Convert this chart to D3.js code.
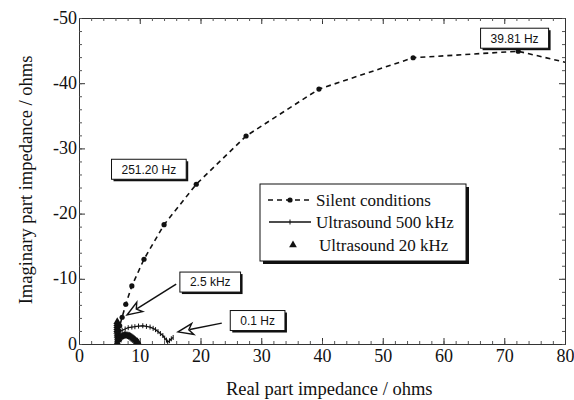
<!DOCTYPE html>
<html>
<head>
<meta charset="utf-8">
<script src="https://cdn.jsdelivr.net/npm/d3@7"></script>
<style>
  html, body { margin: 0; padding: 0; background: #fff; }
  svg { display: block; }
  .tick text { font-family: 'Liberation Serif', 'Times New Roman', serif !important; }
</style>
</head>
<body>
<svg id="chart" width="574" height="400"></svg>
<script>
// Nyquist plot: real part vs. imaginary part of the impedance (ohms)

const xTicks = [0, 10, 20, 30, 40, 50, 60, 70, 80];
const yTicks = [0, -10, -20, -30, -40, -50];

// Silent conditions (real, imaginary)
const silentRe = [6.3, 6.4, 6.5, 6.7, 7.1, 7.7, 8.7, 10.7, 14.0, 19.3, 27.5, 39.5, 55.0, 72.3, 81.0];
const silentIm = [-0.4, -1.2, -2.0, -2.8, -4.1, -6.1, -8.9, -13.0, -18.3, -24.5, -31.9, -39.1, -43.9, -44.9, -43.0];

// Ultrasound 500 kHz
const us500Re = [6.3, 6.4, 6.6, 7.1, 7.6, 8.1, 8.7, 9.2, 9.8, 10.5, 11.1, 11.7, 12.2, 12.6, 13.0, 13.4, 13.8, 14.1, 14.4, 14.6, 14.9, 15.2, 15.5];
const us500Im = [-0.6, -1.2, -1.8, -2.1, -2.3, -2.5, -2.6, -2.65, -2.75, -2.8, -2.7, -2.6, -2.4, -2.2, -1.9, -1.6, -1.3, -0.9, -0.6, -0.3, -0.5, -0.8, -1.0];

// Ultrasound 20 kHz
const us20Re = [6.3, 6.3, 6.3, 6.3, 6.3, 6.3, 6.35, 6.35, 6.4, 6.45, 6.3, 6.5, 6.7, 6.9, 7.1, 7.3, 7.5, 7.7, 7.9, 8.1, 8.3, 8.5, 8.7, 8.9, 9.1, 9.3, 9.5, 9.6, 9.7, 9.8];
const us20Im = [-3.4, -3.1, -2.8, -2.5, -2.2, -1.9, -1.6, -1.3, -1.0, -0.6, -0.2, -0.8, -1.0, -1.1, -1.2, -1.25, -1.3, -1.3, -1.3, -1.25, -1.2, -1.1, -1.0, -0.85, -0.7, -0.55, -0.4, -0.3, -0.2, -0.05];

// Frequency call-outs: label, label centre, arrow start, arrow tip (data units)
const noteLabels = ["39.81 Hz", "251.20 Hz", "2.5 kHz", "0.1 Hz"];
const noteRe = [71.7, 11.5, 21.6, 29.4];
const noteIm = [-46.9, -26.8, -9.5, -3.6];
const arrowFromRe = [null, null, 16.0, 23.5];
const arrowFromIm = [null, null, -9.2, -3.2];
const arrowToRe = [null, null, 7.9, 16.3];
const arrowToIm = [null, null, -4.45, -1.85];

const legendLabels = ["Silent conditions", "Ultrasound 500 kHz", "Ultrasound 20 kHz"];

const svg = d3.select("#chart");
const pLeft = 79, pRight = 565, pTop = 18, pBottom = 344;

const x = d3.scaleLinear().domain([0, 80]).range([pLeft, pRight]);
const y = d3.scaleLinear().domain([0, -50]).range([pBottom, pTop]);

const serif = "'Liberation Serif', 'Times New Roman', serif";
const sans = "'Liberation Sans', Arial, sans-serif";
const ink = "#111";

svg.append("defs").append("clipPath").attr("id", "plotClip")
  .append("rect").attr("x", pLeft).attr("y", pTop).attr("width", pRight - pLeft).attr("height", pBottom - pTop);

// Axes: major ticks every 10, minor every 2, all pointing inward
const minorX = d3.range(0, 81, 2);
const minorY = d3.range(0, -51, -2);

function styleAxis(g) {
  g.attr("font-family", serif).attr("font-size", 18);
  g.select(".domain").attr("stroke", "#333").attr("stroke-width", 1);
  g.selectAll(".tick line").attr("stroke", "#333").attr("stroke-width", 1);
  g.selectAll(".tick text").attr("font-family", serif).attr("font-size", 18).attr("fill", ink);
}
function styleMinor(g) {
  g.select(".domain").remove();
  g.selectAll("line").attr("stroke", "#555");
}

const bottomAxis = svg.append("g").attr("transform", `translate(0,${pBottom})`)
  .call(d3.axisBottom(x).tickValues(xTicks).tickSize(-6).tickPadding(5).tickFormat(d => String(d)));
styleAxis(bottomAxis);
svg.append("g").attr("transform", `translate(0,${pBottom})`)
  .call(d3.axisBottom(x).tickValues(minorX).tickSize(-3).tickFormat("")).call(styleMinor);

const topAxis = svg.append("g").attr("transform", `translate(0,${pTop})`)
  .call(d3.axisTop(x).tickValues(xTicks).tickSize(-6).tickFormat(""));
styleAxis(topAxis);
svg.append("g").attr("transform", `translate(0,${pTop})`)
  .call(d3.axisTop(x).tickValues(minorX).tickSize(-3).tickFormat("")).call(styleMinor);

const leftAxis = svg.append("g").attr("transform", `translate(${pLeft},0)`)
  .call(d3.axisLeft(y).tickValues(yTicks).tickSize(-6).tickPadding(2).tickFormat(d => String(d)));
styleAxis(leftAxis);
leftAxis.selectAll(".tick text").attr("dy", "0.28em");
svg.append("g").attr("transform", `translate(${pLeft},0)`)
  .call(d3.axisLeft(y).tickValues(minorY).tickSize(-3).tickFormat("")).call(styleMinor);

const rightAxis = svg.append("g").attr("transform", `translate(${pRight},0)`)
  .call(d3.axisRight(y).tickValues(yTicks).tickSize(-6).tickFormat(""));
styleAxis(rightAxis);
svg.append("g").attr("transform", `translate(${pRight},0)`)
  .call(d3.axisRight(y).tickValues(minorY).tickSize(-3).tickFormat("")).call(styleMinor);

// Axis titles
svg.append("text").attr("x", 226).attr("y", 395).attr("text-anchor", "start")
  .attr("font-family", serif).attr("font-size", 18.5).attr("fill", ink)
  .text("Real part impedance / ohms");
svg.append("text").attr("transform", "translate(32,180) rotate(-90)").attr("text-anchor", "middle")
  .attr("font-family", serif).attr("font-size", 18.5).attr("fill", ink)
  .text("Imaginary part impedance / ohms");

// Series
const plot = svg.append("g").attr("clip-path", "url(#plotClip)");
const zip = (a, b) => a.map((v, i) => [v, b[i]]);
const line = d3.line().x(d => x(d[0])).y(d => y(d[1]));

const silent = zip(silentRe, silentIm);
const us500 = zip(us500Re, us500Im);
const us20 = zip(us20Re, us20Im);

plot.append("path").datum(silent).attr("d", line)
  .attr("fill", "none").attr("stroke", ink).attr("stroke-width", 1.6).attr("stroke-dasharray", "5,4");
plot.selectAll(".silentPt").data(silent).join("circle")
  .attr("cx", d => x(d[0])).attr("cy", d => y(d[1])).attr("r", 2.6).attr("fill", ink);

plot.append("path").datum(us500).attr("d", line)
  .attr("fill", "none").attr("stroke", ink).attr("stroke-width", 1.3);
plot.selectAll(".us500Pt").data(us500).join("line")
  .attr("x1", d => x(d[0])).attr("x2", d => x(d[0]))
  .attr("y1", d => y(d[1]) - 2.5).attr("y2", d => y(d[1]) + 2.5)
  .attr("stroke", ink).attr("stroke-width", 1);

const tri = d3.symbol().type(d3.symbolTriangle).size(26);
plot.selectAll(".us20Pt").data(us20).join("path")
  .attr("d", tri).attr("transform", d => `translate(${x(d[0])},${y(d[1])})`).attr("fill", ink);

// Call-out arrows with hollow heads
noteLabels.forEach((lab, i) => {
  if (arrowFromRe[i] === null) return;
  const x0 = x(arrowFromRe[i]), y0 = y(arrowFromIm[i]);
  const x1 = x(arrowToRe[i]), y1 = y(arrowToIm[i]);
  const ang = Math.atan2(y1 - y0, x1 - x0);
  const hl = 15, hw = 5.5;
  const bx = x1 - hl * Math.cos(ang), by = y1 - hl * Math.sin(ang);
  const nx = -Math.sin(ang), ny = Math.cos(ang);
  svg.append("line").attr("x1", x0).attr("y1", y0).attr("x2", bx + 3 * Math.cos(ang)).attr("y2", by + 3 * Math.sin(ang))
    .attr("stroke", ink).attr("stroke-width", 1.5);
  svg.append("path")
    .attr("d", `M${x1},${y1}L${bx + hw * nx},${by + hw * ny}L${bx + 4 * Math.cos(ang)},${by + 4 * Math.sin(ang)}L${bx - hw * nx},${by - hw * ny}Z`)
    .attr("fill", "#fff").attr("stroke", ink).attr("stroke-width", 1.4).attr("stroke-linejoin", "miter");
});

// Call-out boxes with drop shadow
noteLabels.forEach((lab, i) => {
  const cx = x(noteRe[i]), cy = y(noteIm[i]);
  const g = svg.append("g");
  const t = g.append("text").attr("x", cx).attr("y", cy).attr("dy", "0.36em").attr("text-anchor", "middle")
    .attr("font-family", sans).attr("font-size", 12).attr("fill", ink).text(lab);
  const w = t.node().getComputedTextLength() + 20, h = 20;
  g.insert("rect", "text").attr("x", cx - w / 2 + 2).attr("y", cy - h / 2 + 2).attr("width", w).attr("height", h).attr("fill", ink);
  g.insert("rect", "text").attr("x", cx - w / 2).attr("y", cy - h / 2).attr("width", w).attr("height", h)
    .attr("fill", "#fff").attr("stroke", ink).attr("stroke-width", 1);
});

// Legend
const lg = svg.append("g");
const lx = 260, ly = 184, lw = 206, lh = 77;
lg.append("rect").attr("x", lx + 3).attr("y", ly + 3).attr("width", lw).attr("height", lh).attr("fill", ink);
lg.append("rect").attr("x", lx).attr("y", ly).attr("width", lw).attr("height", lh)
  .attr("fill", "#fff").attr("stroke", ink).attr("stroke-width", 1);
const rowY = [200, 222, 245];
legendLabels.forEach((lab, i) => {
  lg.append("text").attr("x", i === 2 ? 319 : 316).attr("y", rowY[i]).attr("dy", "0.35em")
    .attr("font-family", serif).attr("font-size", 17).attr("fill", ink).text(lab);
});
lg.append("line").attr("x1", 268).attr("x2", 312).attr("y1", rowY[0]).attr("y2", rowY[0])
  .attr("stroke", ink).attr("stroke-width", 1.6).attr("stroke-dasharray", "5,4");
lg.append("circle").attr("cx", 290).attr("cy", rowY[0]).attr("r", 2.6).attr("fill", ink);
lg.append("line").attr("x1", 269).attr("x2", 311).attr("y1", rowY[1]).attr("y2", rowY[1])
  .attr("stroke", ink).attr("stroke-width", 1.3);
lg.append("line").attr("x1", 290).attr("x2", 290).attr("y1", rowY[1] - 2.5).attr("y2", rowY[1] + 2.5)
  .attr("stroke", ink).attr("stroke-width", 1);
lg.append("path").attr("d", tri).attr("transform", `translate(293,${rowY[2]})`).attr("fill", ink);
</script>
</body>
</html>
